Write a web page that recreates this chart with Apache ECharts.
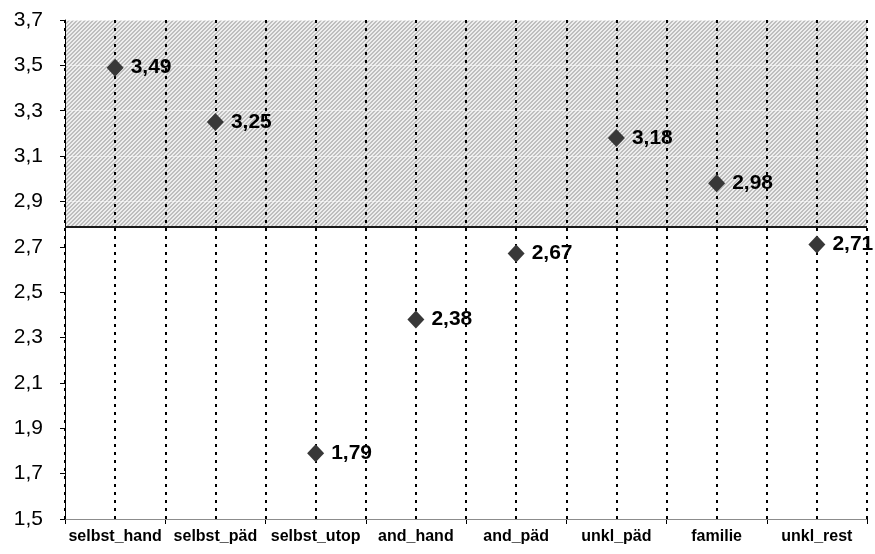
<!DOCTYPE html>
<html>
<head>
<meta charset="utf-8">
<script src="https://cdn.jsdelivr.net/npm/echarts@6/dist/echarts.min.js"></script>
<style>
  html, body { margin: 0; padding: 0; background: #fff; }
  #chart { width: 875px; height: 554px; }
</style>
</head>
<body>
<div id="chart"></div>
<script>
// data
const categories = ['selbst_hand', 'selbst_päd', 'selbst_utop', 'and_hand', 'and_päd', 'unkl_päd', 'familie', 'unkl_rest'];
const values = [3.49, 3.25, 1.79, 2.38, 2.67, 3.18, 2.98, 2.71];
const threshold = 2.79;
const yMin = 1.5, yMax = 3.7, yStep = 0.2;

const comma = v => Number(v).toFixed(1).replace('.', ',');

// hatch tile for the shaded band
function hatchTile() {
    const c = document.createElement('canvas');
    c.width = 4; c.height = 4;
    const ctx = c.getContext('2d');
    const img = ctx.createImageData(4, 4);
    for (let y = 0; y < 4; y++) {
        for (let x = 0; x < 4; x++) {
            const dark = ((x + y) % 4) < 2;
            const g = dark ? 0xbe : 0xee;
            const i = (y * 4 + x) * 4;
            img.data[i] = g; img.data[i + 1] = g; img.data[i + 2] = g; img.data[i + 3] = 255;
        }
    }
    ctx.putImageData(img, 0, 0);
    return c;
}

const font = 'Liberation Sans, Arial, sans-serif';
const chart = echarts.init(document.getElementById('chart'));

chart.setOption({
    animation: false,
    grid: { left: 65, right: 8, top: 20, bottom: 35 },
    xAxis: [{
        type: 'category',
        data: categories,
        boundaryGap: true,
        axisLine: { lineStyle: { color: '#000', width: 1 } },
        axisTick: { show: true, length: 5, lineStyle: { color: '#000' } },
        axisLabel: { color: '#000', fontFamily: font, fontSize: 16, fontWeight: 'bold', margin: 10, interval: 0 },
        splitLine: { show: false }
    }, {
        // hidden helper axis that draws dotted lines at centres and boundaries
        type: 'value',
        min: 0,
        max: categories.length * 2,
        interval: 1,
        position: 'top',
        axisLine: { show: false },
        axisTick: { show: false },
        axisLabel: { show: false },
        splitLine: { show: true, lineStyle: { color: '#000', type: [3, 5], width: 2 } },
        z: 3
    }],
    yAxis: {
        type: 'value',
        min: yMin,
        max: yMax,
        interval: yStep,
        axisLine: { show: true, lineStyle: { color: '#000', width: 1 } },
        axisTick: { show: true, length: 5, lineStyle: { color: '#000' } },
        axisLabel: { color: '#000', fontFamily: font, fontSize: 21, margin: 22, formatter: comma },
        splitLine: { show: true, lineStyle: { color: 'rgba(255,255,255,0.55)', width: 1 } },
        z: 2
    },
    series: [{
        type: 'line',
        data: [],
        z: 1,
        markArea: {
            silent: true,
            itemStyle: { color: { image: hatchTile(), repeat: 'repeat' } },
            data: [[{ yAxis: threshold }, { yAxis: yMax }]]
        },
        markLine: {
            silent: true,
            symbol: 'none',
            label: { show: false },
            lineStyle: { color: '#1a1a1a', width: 2, type: 'solid' },
            data: [{ yAxis: threshold }]
        }
    }, {
        type: 'scatter',
        data: values,
        z: 5,
        symbol: 'diamond',
        symbolSize: [17, 18],
        itemStyle: { color: '#383838', opacity: 1 },
        label: {
            show: true,
            position: 'right',
            distance: 7,
            color: '#000',
            fontFamily: font,
            fontSize: 21,
            fontWeight: 'bold',
            formatter: p => p.value.toFixed(2).replace('.', ',')
        }
    }]
});
</script>
</body>
</html>
